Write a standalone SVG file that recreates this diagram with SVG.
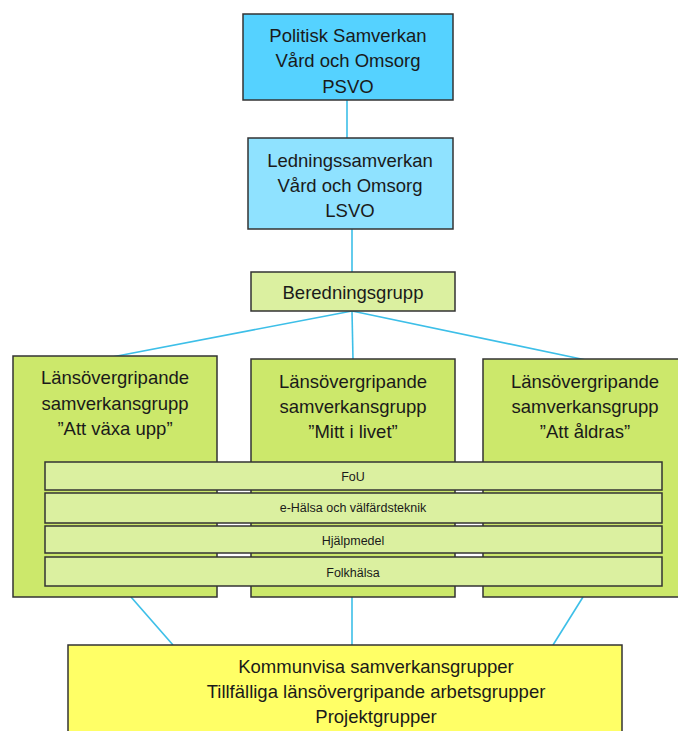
<svg xmlns="http://www.w3.org/2000/svg" width="678" height="731" viewBox="0 0 678 731">
<style>
  .box { stroke: #333; stroke-width: 1.5; }
  .psvo { fill: #55d2ff; }
  .lsvo { fill: #8fe2ff; }
  .green { fill: #cce86b; }
  .light { fill: #dbf0a0; }
  .yellow { fill: #ffff66; }
  .t { font-family: "Liberation Sans", Arial, sans-serif; font-size: 18.5px; fill: #1a1a1a; text-anchor: middle; }
  .s { font-family: "Liberation Sans", Arial, sans-serif; font-size: 12.5px; fill: #1a1a1a; text-anchor: middle; }
  .conn { stroke: #3dbfe8; stroke-width: 1.6; fill: none; }
</style>
<rect width="678" height="731" fill="#ffffff"/>
<g id="connectors">
  <line class="conn" x1="347" y1="100" x2="347" y2="138"/>
  <line class="conn" x1="352" y1="229" x2="352" y2="272"/>
  <line class="conn" x1="352" y1="311" x2="112" y2="357"/>
  <line class="conn" x1="352" y1="311" x2="353" y2="360"/>
  <line class="conn" x1="352" y1="311" x2="586" y2="360"/>
  <line class="conn" x1="131" y1="597" x2="173" y2="645"/>
  <line class="conn" x1="352" y1="597" x2="352" y2="645"/>
  <line class="conn" x1="583" y1="597" x2="553" y2="645"/>
</g>
<g id="psvo">
  <rect class="box psvo" x="243" y="14" width="210" height="86"/>
  <text class="t" x="348" y="42">Politisk Samverkan</text>
  <text class="t" x="348" y="67">Vård och Omsorg</text>
  <text class="t" x="348" y="93">PSVO</text>
</g>
<g id="lsvo">
  <rect class="box lsvo" x="248" y="138" width="205" height="91"/>
  <text class="t" x="350" y="167">Ledningssamverkan</text>
  <text class="t" x="350" y="192">Vård och Omsorg</text>
  <text class="t" x="350" y="217">LSVO</text>
</g>
<g id="beredningsgrupp">
  <rect class="box light" x="251" y="272" width="204" height="39"/>
  <text class="t" x="353" y="299">Beredningsgrupp</text>
</g>
<g id="vaxa-upp">
  <rect class="box green" x="13" y="356" width="204" height="241"/>
  <text class="t" x="115" y="384">Länsövergripande</text>
  <text class="t" x="115" y="410">samverkansgrupp</text>
  <text class="t" x="115" y="435">”Att växa upp”</text>
</g>
<g id="mitt-i-livet">
  <rect class="box green" x="251" y="359" width="204" height="238"/>
  <text class="t" x="353" y="388">Länsövergripande</text>
  <text class="t" x="353" y="413">samverkansgrupp</text>
  <text class="t" x="353" y="438">”Mitt i livet”</text>
</g>
<g id="aldras">
  <rect class="box green" x="483" y="359" width="200" height="238"/>
  <text class="t" x="585" y="388">Länsövergripande</text>
  <text class="t" x="585" y="413">samverkansgrupp</text>
  <text class="t" x="585" y="438">”Att åldras”</text>
</g>
<g id="fou">
  <rect class="box light" x="45" y="462" width="617" height="28"/>
  <text class="s" x="353" y="481">FoU</text>
</g>
<g id="ehalsa">
  <rect class="box light" x="45" y="493" width="617" height="30"/>
  <text class="s" x="353" y="512">e-Hälsa och välfärdsteknik</text>
</g>
<g id="hjalpmedel">
  <rect class="box light" x="45" y="526" width="617" height="27"/>
  <text class="s" x="353" y="545">Hjälpmedel</text>
</g>
<g id="folkhalsa">
  <rect class="box light" x="45" y="557" width="617" height="29"/>
  <text class="s" x="353" y="577">Folkhälsa</text>
</g>
<g id="kommunvisa">
  <rect class="box yellow" x="68" y="645" width="554" height="100"/>
  <text class="t" x="376" y="673">Kommunvisa samverkansgrupper</text>
  <text class="t" x="376" y="698">Tillfälliga länsövergripande arbetsgrupper</text>
  <text class="t" x="376" y="723">Projektgrupper</text>
</g>
</svg>
